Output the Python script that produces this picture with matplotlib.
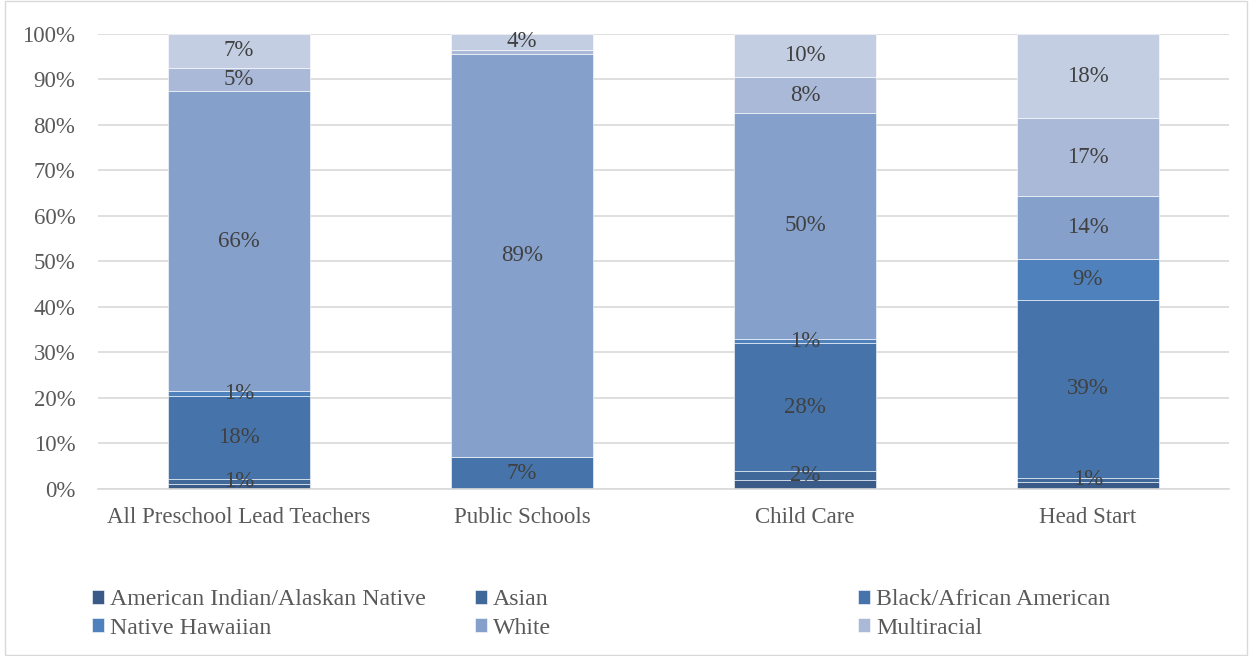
import numpy as np
import matplotlib.pyplot as plt

categories = ['All Preschool Lead Teachers', 'Public Schools', 'Child Care', 'Head Start']
aian = [1.1, 0.0, 1.9, 1.5]
asian = [1.0, 0.0, 2.1, 1.0]
black = [18.3, 7.0, 28.0, 39.0]
hawaiian = [1.2, 0.0, 1.0, 9.0]
white = [65.8, 88.6, 49.6, 13.9]
multi = [5.2, 0.9, 7.9, 17.1]
other = [7.4, 3.5, 9.5, 18.5]

series = [
    ('American Indian/Alaskan Native', aian, '#3a5b88', False),
    ('Asian', asian, '#406899', True),
    ('Black/African American', black, '#4674aa', True),
    ('Native Hawaiian', hawaiian, '#4f81bd', True),
    ('White', white, '#85a0cb', True),
    ('Multiracial', multi, '#aab9d7', True),
    ('_nolegend_', other, '#c4cee2', True),
]

plt.rcParams['font.family'] = ['Liberation Serif', 'DejaVu Serif']

fig = plt.figure(figsize=(12.52, 6.56), dpi=100)
ax = fig.add_axes([0.078, 0.2546, 0.904, 0.6936])

x = np.arange(len(categories))
bottom = np.zeros(len(categories))
for name, vals, c, show in series:
    vals = np.array(vals)
    ax.bar(x, vals, 0.5, bottom=bottom, color=c, label=name,
           edgecolor='white', linewidth=0.4, zorder=2)
    if show:
        for xi, b, v in zip(x, bottom, vals):
            if v >= 1:
                ax.text(xi, b + v / 2, f'{round(v)}%', ha='center', va='center',
                        fontsize=16.5, color='#404040', zorder=3)
    bottom += vals

ax.set_xlim(-0.5, len(categories) - 0.5)
ax.set_ylim(0, 100)
ax.set_yticks(np.arange(0, 101, 10))
ax.set_yticklabels([f'{t}%' for t in range(0, 101, 10)])
ax.set_xticks(x)
ax.set_xticklabels(categories)
ax.tick_params(axis='both', length=0, labelsize=16.5, labelcolor='#595959')
ax.tick_params(axis='y', pad=16)
ax.tick_params(axis='x', pad=13)
ax.grid(axis='y', color='#d9d9d9', linewidth=1.2, zorder=0)
for s in ['top', 'right', 'left']:
    ax.spines[s].set_visible(False)
ax.spines['bottom'].set_color('#d9d9d9')
ax.spines['bottom'].set_linewidth(1.2)

handles, labels = ax.get_legend_handles_labels()
col_x = [0.066, 0.372, 0.678]
for ci, cx in enumerate(col_x):
    idx = [ci, ci + 3]
    leg = fig.legend([handles[i] for i in idx], [labels[i] for i in idx],
                     loc='lower left', bbox_to_anchor=(cx, 0.012), ncol=1,
                     frameon=False, fontsize=17.2, handlelength=0.5, handleheight=0.5,
                     handletextpad=0.25, labelspacing=0.3, borderaxespad=0)
    for t in leg.get_texts():
        t.set_color('#595959')

fig.patches.append(plt.Rectangle((0.004, 0.002), 0.992, 0.996, transform=fig.transFigure,
                                 fill=False, edgecolor='#d9d9d9', linewidth=1))

fig.savefig('out.png', dpi=100)
